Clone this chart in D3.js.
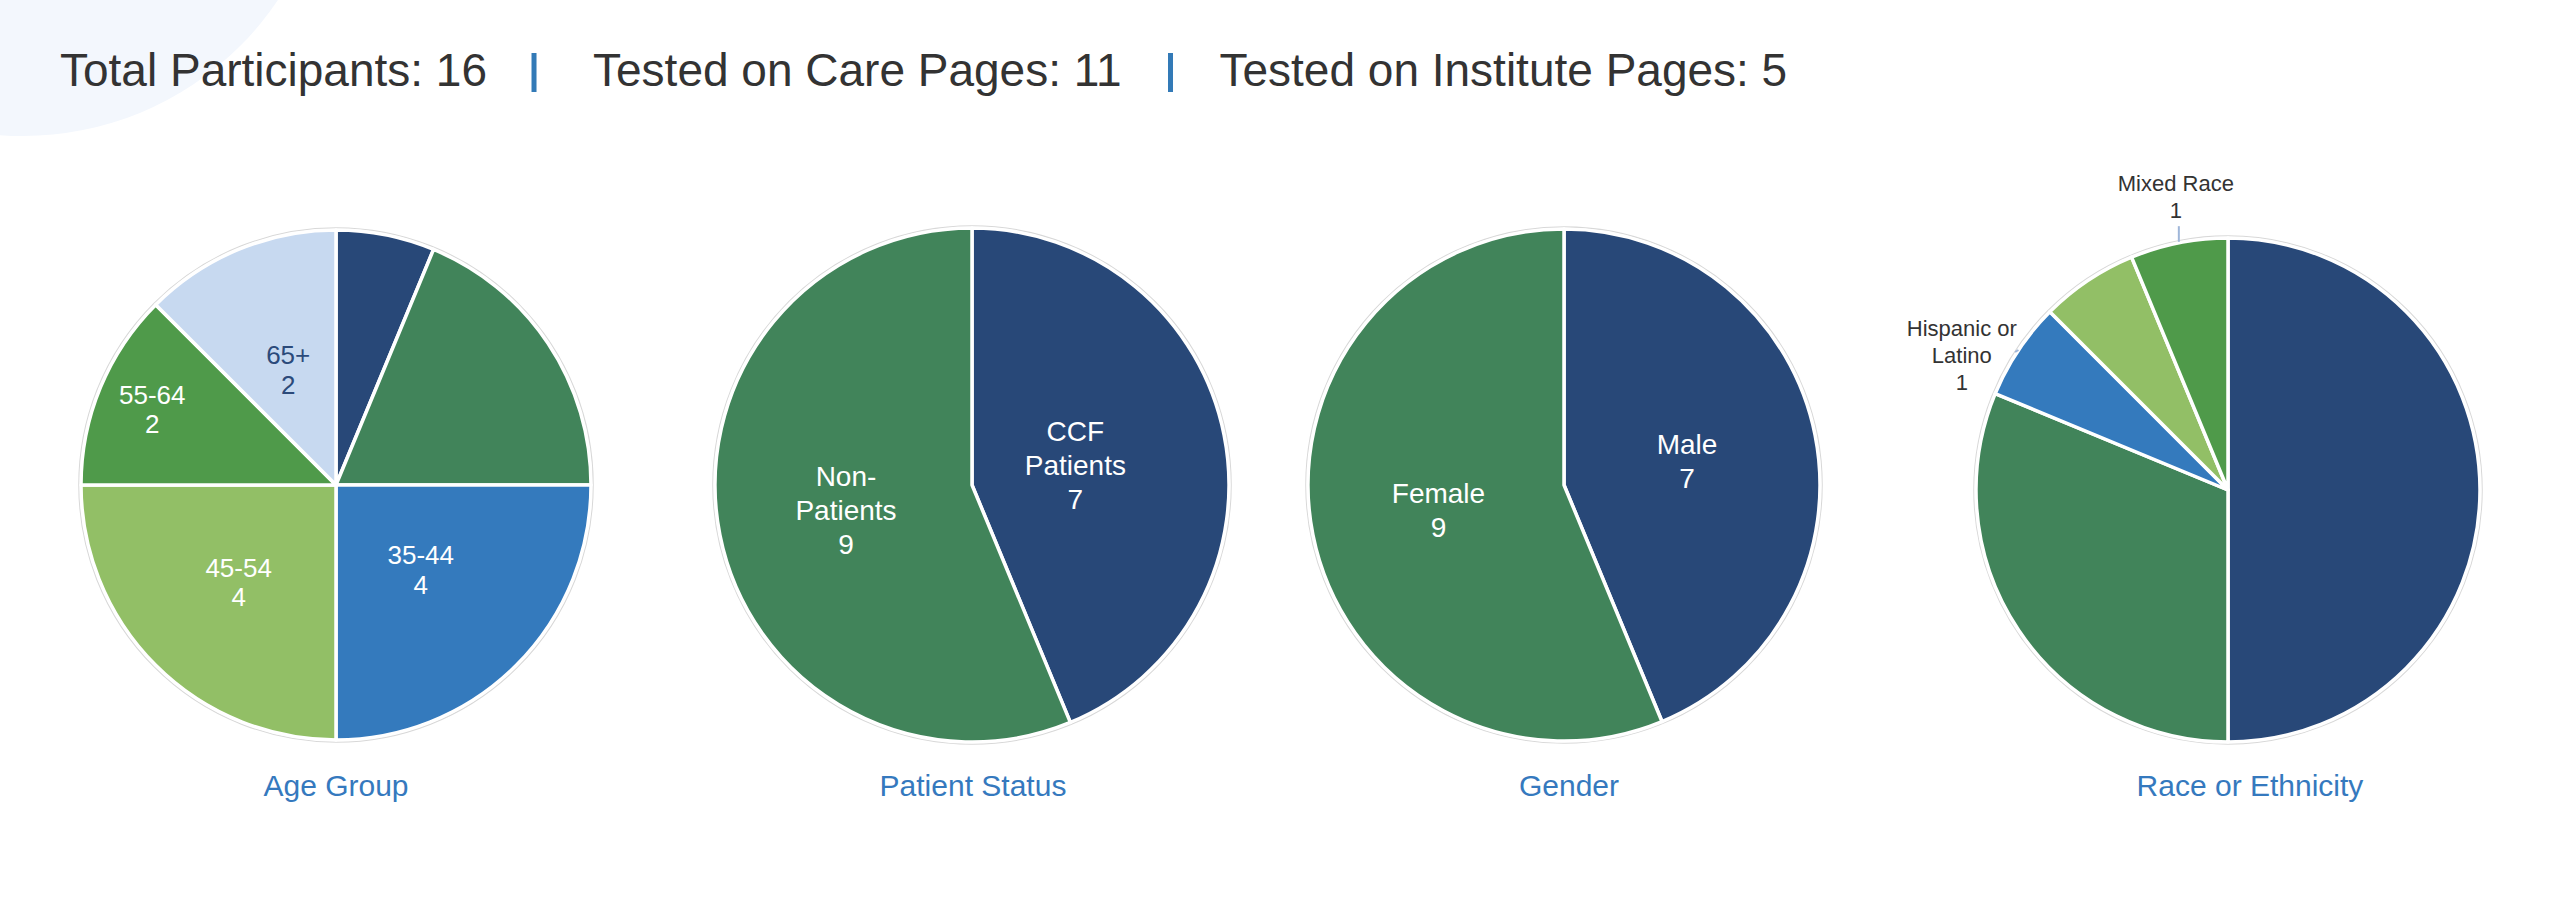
<!DOCTYPE html>
<html><head><meta charset="utf-8">
<script src="https://cdn.jsdelivr.net/npm/d3@7"></script>
<style>
body{margin:0;background:#fff;}
svg{display:block;font-family:"Liberation Sans",Arial,Helvetica,sans-serif;}
</style>
</head><body>
<svg id="c" width="2560" height="910"></svg>
<script>
// ---------- DATA ----------
const summaryLabels = ["Total Participants", "Tested on Care Pages", "Tested on Institute Pages"];
const summaryValues = [16, 11, 5];

const chartTitles = ["Age Group", "Patient Status", "Gender", "Race or Ethnicity"];

const ageCategories = ["18-24", "25-34", "35-44", "45-54", "55-64", "65+"];
const ageValues = [1, 3, 4, 4, 2, 2];

const statusCategories = ["CCF Patients", "Non-Patients"];
const statusValues = [7, 9];

const genderCategories = ["Male", "Female"];
const genderValues = [7, 9];

const raceCategories = ["White", "Black or African American", "Hispanic or Latino", "Asian", "Mixed Race"];
const raceValues = [8, 5, 1, 1, 1];

// ---------- STYLE / LAYOUT ----------
const C = {navy:"#284878", green:"#41845a", blue:"#347abd", lgreen:"#92bf66", mgreen:"#4f9a4a", lblue:"#c7d9f0"};
const NONE = {type:"none"};
const layouts = [
  {cx:336, cy:485, r:255, tx:336, font:26, lh:29.5,
   colors:[C.navy, C.green, C.blue, C.lgreen, C.mgreen, C.lblue],
   labels:[NONE, NONE, {type:"in",k:0.47}, {type:"in",k:0.54}, {type:"in",k:0.78}, {type:"in",k:0.49,color:"#2b4a7a"}]},
  {cx:972, cy:485, r:257, tx:973, font:28, lh:34,
   colors:[C.navy, C.green],
   labels:[{type:"in",k:0.41}, {type:"in",k:0.5}]},
  {cx:1564, cy:485, r:256, tx:1569, font:28, lh:34,
   colors:[C.navy, C.green],
   labels:[{type:"in",k:0.49}, {type:"in",k:0.5}]},
  {cx:2228, cy:490, r:252, tx:2250, font:22, lh:27,
   colors:[C.navy, C.green, C.blue, C.lgreen, C.mgreen],
   labels:[NONE, NONE, {type:"out"}, NONE, {type:"out"}]}
];
const charts = [
  {title:chartTitles[0], cats:ageCategories, vals:ageValues},
  {title:chartTitles[1], cats:statusCategories, vals:statusValues},
  {title:chartTitles[2], cats:genderCategories, vals:genderValues},
  {title:chartTitles[3], cats:raceCategories, vals:raceValues}
];
const pipeGapBefore = [47, 49];
const pipeGapAfter = [59, 49];

const svg = d3.select("#c");

// pale decorative circle top-left
svg.append("circle").attr("cx",23).attr("cy",-171).attr("r",307).attr("fill","#f3f7fd");

// ---------- HEADER ----------
let hx = 60;
summaryLabels.forEach((lab,i)=>{
  const t = svg.append("text").attr("x",hx).attr("y",86)
    .attr("font-size",46).attr("fill","#333")
    .text(`${lab}: ${summaryValues[i]}`);
  hx += t.node().getComputedTextLength();
  if (i < summaryLabels.length-1){
    const pc = hx + pipeGapBefore[i];
    svg.append("rect").attr("x",pc-2.5).attr("y",53).attr("width",5).attr("height",39).attr("fill","#337ab7");
    hx = pc + pipeGapAfter[i];
  }
});

// ---------- helpers ----------
const meas = svg.append("text").attr("visibility","hidden");
function textW(s, fs){ meas.attr("font-size",fs).text(s); return meas.node().getComputedTextLength(); }
function wrap(str, maxW, fs){
  const toks = str.match(/[^ -]+-?/g) || [str];
  const lines = [];
  let cur = "";
  toks.forEach(tok=>{
    if (!cur){ cur = tok; return; }
    const sep = cur.endsWith("-") ? "" : " ";
    const cand = cur + sep + tok;
    if (textW(cand, fs) <= maxW) cur = cand; else { lines.push(cur); cur = tok; }
  });
  if (cur) lines.push(cur);
  return lines;
}

// ---------- PIES ----------
charts.forEach((ch, ci)=>{
  const L = layouts[ci];
  const g = svg.append("g").attr("transform",`translate(${L.cx},${L.cy})`);
  const pie = d3.pie().sort(null).value(d=>d.v);
  const data = ch.vals.map((v,i)=>({v, cat:ch.cats[i], i}));
  const arcs = pie(data);
  const arc = d3.arc().innerRadius(0).outerRadius(L.r);

  g.append("circle").attr("r",L.r+2).attr("fill","none").attr("stroke","#d8d8d8").attr("stroke-width",1.5);

  g.selectAll("path.slice").data(arcs).join("path")
    .attr("class","slice")
    .attr("d",arc)
    .attr("fill",d=>L.colors[d.index])
    .attr("stroke","#fff").attr("stroke-width",3.5).attr("stroke-linejoin","round");

  arcs.forEach(a=>{
    const spec = L.labels[a.index];
    if (!spec || spec.type==="none") return;
    const mid = (a.startAngle + a.endAngle)/2;
    const dx = Math.sin(mid), dy = -Math.cos(mid);
    if (spec.type==="in"){
      const lines = wrap(a.data.cat, 130, L.font).concat([String(a.data.v)]);
      const px = dx*L.r*spec.k, py = dy*L.r*spec.k;
      const y0 = py - (lines.length-1)*L.lh/2 + L.font*0.36;
      const t = g.append("text").attr("text-anchor","middle").attr("font-size",L.font)
        .attr("fill", spec.color || "#fff");
      lines.forEach((ln,li)=>t.append("tspan").attr("x",px).attr("y",y0+li*L.lh).text(ln));
    } else {
      const lines = wrap(a.data.cat, 120, L.font).concat([String(a.data.v)]);
      const P = [dx*L.r, dy*L.r];
      const t = g.append("text").attr("text-anchor","middle").attr("font-size",L.font).attr("fill","#333");
      lines.forEach((ln,li)=>t.append("tspan").attr("x",0).attr("y",li*L.lh).text(ln));
      const bb = t.node().getBBox();
      let tx, ty;
      if (Math.abs(dx) > Math.abs(dy)){
        g.append("line").attr("x1",P[0]).attr("y1",P[1]).attr("x2",P[0]+dx*4).attr("y2",P[1]+2)
          .attr("stroke","#9fb6d9").attr("stroke-width",2);
        const right = P[0] + dx*2;
        tx = right - (bb.x + bb.width);
        ty = P[1] + 6 - (bb.y + bb.height/2);
        if (dx > 0) tx = P[0] + dx*2 - bb.x;
      } else {
        const E = [P[0], P[1] + dy*17];
        g.append("line").attr("x1",P[0]).attr("y1",P[1]-1).attr("x2",E[0]).attr("y2",E[1])
          .attr("stroke","#9fb6d9").attr("stroke-width",2);
        tx = P[0] - 3 - (bb.x + bb.width/2);
        ty = (dy < 0) ? (E[1] - 3 - (bb.y + bb.height)) : (E[1] + 3 - bb.y);
      }
      t.attr("transform",`translate(${tx},${ty})`);
    }
  });

  svg.append("text").attr("x",L.tx).attr("y",796).attr("text-anchor","middle")
    .attr("font-size",30).attr("fill","#3579be").text(ch.title);
});
meas.remove();
</script>
</body></html>
